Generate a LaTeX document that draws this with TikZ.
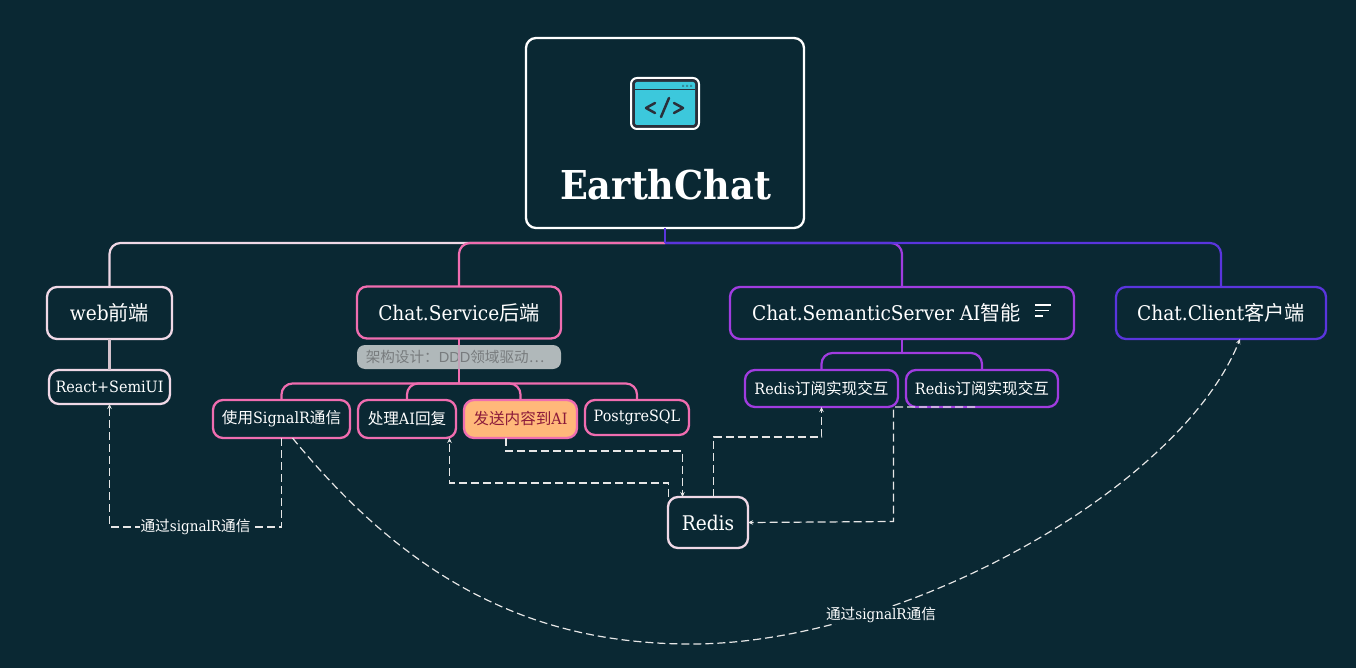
\documentclass[tikz,border=0pt]{standalone}
\usepackage{fontspec}
\setmainfont[FakeStretch=0.92]{DejaVu Serif}
\newfontfamily\cjk{Noto Sans CJK SC}
\newfontfamily\sansf{Liberation Sans}
\newcommand{\fs}[1]{\fontsize{#1}{#1}\selectfont}
\usetikzlibrary{arrows.meta}
\definecolor{bgc}{HTML}{0A2833}
\definecolor{cweb}{HTML}{F0D8E6}
\definecolor{cpink}{HTML}{F06DB0}
\definecolor{cpur}{HTML}{A03CE0}
\definecolor{cblue}{HTML}{5A35DD}
\definecolor{cdash}{HTML}{E6E6E6}
\definecolor{cyanic}{HTML}{3CC8DC}
\definecolor{darkic}{HTML}{2A2F3A}
\definecolor{ffb}{HTML}{FFB87A}
\definecolor{dred}{HTML}{8B1A3A}
\definecolor{notefill}{HTML}{B0B8BA}
\definecolor{notetext}{HTML}{787C7E}
\tikzset{
 box/.style={draw=#1,line width=2.3pt,rounded corners=10pt,fill=bgc,text=white,outer sep=0pt,inner sep=0pt,anchor=center},
 big/.style={font=\fs{20.2}},
 small/.style={font=\fs{15.6}},
 tree/.style={draw=#1,line width=2.2pt,rounded corners=11pt},
 stem/.style={draw=#1,line width=2.2pt},
 link/.style={draw=cdash,line width=1.2pt,dash pattern=on 8pt off 4pt},
 tip/.style={-{Stealth[length=5pt,width=4.5pt]}},
 lab/.style={fill=bgc,text=white,inner sep=1pt,font=\fs{14.7}},
}
\begin{document}
\begin{tikzpicture}[x=1pt,y=-1pt]
\fill[bgc] (0,0) rectangle (1356,668);
\useasboundingbox (0,0) rectangle (1356,668);
\node[box=white,minimum width=278pt,minimum height=190pt] (root) at (665,133) {};
\node[text=white,font=\bfseries\fs{39.8}] (title) at (665.5,185) {EarthChat};
\node[box=cweb,big,minimum width=125pt,minimum height=52pt] (web) at (109.5,313) {web{\cjk 前端}};
\node[box=cpink,big,minimum width=204pt,minimum height=52pt] (svc) at (459,312.5) {Chat.Service{\cjk 后端}};
\node[box=cpur,big,minimum width=344pt,minimum height=52pt] (sem) at (902,313) {\hspace*{-31pt}Chat.SemanticServer AI{\cjk 智能}};
\node[box=cblue,big,minimum width=210pt,minimum height=52pt] (cli) at (1221,313) {Chat.Client{\cjk 客户端}};
\node[box=cweb,small,minimum width=121pt,minimum height=34pt] (react) at (109.5,387) {React+SemiUI};
\node[box=cpink,small,minimum width=137pt,minimum height=38pt] (sig) at (281.5,419) {{\cjk 使用}SignalR{\cjk 通信}};
\node[box=cpink,small,minimum width=98pt,minimum height=38pt] (rep) at (407,419) {{\cjk 处理}AI{\cjk 回复}};
\node[box=cpink,small,fill=ffb,minimum width=113pt,minimum height=38pt,text=dred] (snd) at (520.5,419) {{\cjk 发送内容到}AI};
\node[box=cpink,small,minimum width=104pt,minimum height=35pt] (pg) at (637,417.5) {PostgreSQL};
\node[box=cpur,small,minimum width=153pt,minimum height=37pt] (s1) at (821.5,388.5) {Redis{\cjk 订阅实现交互}};
\node[box=cpur,small,minimum width=152pt,minimum height=37pt] (s2) at (982,388.5) {Redis{\cjk 订阅实现交互}};
\node[box=cweb,big,minimum width=80pt,minimum height=51pt] (red) at (708,522.5) {Redis};
% icon
\draw[white,line width=2pt,fill=darkic,rounded corners=6pt] (631,78) rectangle (699,129);
\fill[cyanic,rounded corners=2pt] (635,82) rectangle (695,125);
\draw[darkic,line width=1pt] (635,90) -- (695,90);
\fill[darkic!40!cyanic] (682,85) rectangle (684,87) (686,85) rectangle (688,87) (690,85) rectangle (692,87);
\draw[darkic,line width=2.5pt,line cap=round,line join=round] (655,103) -- (646,108) -- (655,113) (669,98) -- (661,117) (674,103) -- (683,108) -- (674,113);
% menu icon
\draw[white,line width=1.3pt] (1035,305) -- (1051,305) (1035,310.5) -- (1049,310.5) (1035,316) -- (1043,316);
% tree connectors
\coordinate (rootb) at ([yshift=-15pt]root.south);
\draw[tree=cweb] (rootb) -| (web.north);
\draw[tree=cpink] (rootb) -| (svc.north);
\draw[tree=cpur] (rootb) -| (sem.north);
\draw[tree=cblue] (rootb) -| (cli.north);
\draw[stem=cblue] (root.south) -- (rootb);
\draw[stem=cweb!75!gray] (web.south) -- (react.north);
\draw[stem=cpink] (svc.south) -- ++(0,45) coordinate (svcb);
\draw[tree=cpink] (svcb) -| (sig.north);
\draw[tree=cpink] (svcb) -| (rep.north);
\draw[tree=cpink] (svcb) -| (snd.north);
\draw[tree=cpink] (svcb) -| (pg.north);
\draw[stem=cpur] (sem.south) -- ++(0,14) coordinate (semb);
\draw[tree=cpur] (semb) -| (s1.north);
\draw[tree=cpur] (semb) -| (s2.north);
% note
\node[fill=notefill,text=notetext,rounded corners=8pt,minimum width=204pt,minimum height=24pt,inner sep=0pt,font=\cjk\fs{14.6}] (note) at (459,357) {\hspace*{-8pt}架构设计：{\sansf DDD}领域驱动…};
\draw[cpink!30!notefill,line width=2.2pt] (svc.south|-note.north) -- (svc.south|-note.south);
% dashed links
\draw[link,tip] (sig.south) -- ++(0,89) coordinate (c1) -| (react.south) node[pos=.25,lab] (l1) {{\cjk 通过}signalR{\cjk 通信}};
\draw[link,tip] ([xshift=11pt]sig.south) .. controls (415,588) and (541,644) .. (691,644) .. controls (901,644) and (1180,489) .. (cli.south-|1240,339);
\node[lab] (l2) at (881,615) {{\cjk 通过}signalR{\cjk 通信}};
\draw[link,tip] ([xshift=-14.5pt]snd.south) -- ++(0,13) -| ([xshift=-25.5pt]red.north);
\draw[link,tip] ([xshift=-39.5pt]red.north) -- ++(0,-14) -| ([xshift=42.5pt]rep.south);
\draw[link,tip] ([xshift=5.5pt]red.north) -- ++(0,-60) -| (s1.south);
\draw[link,tip] (s2.south-|975,0) -- (s2.south-|893.5,0) -- (893.5,521.5) -- (red.east);
\end{tikzpicture}
\end{document}
